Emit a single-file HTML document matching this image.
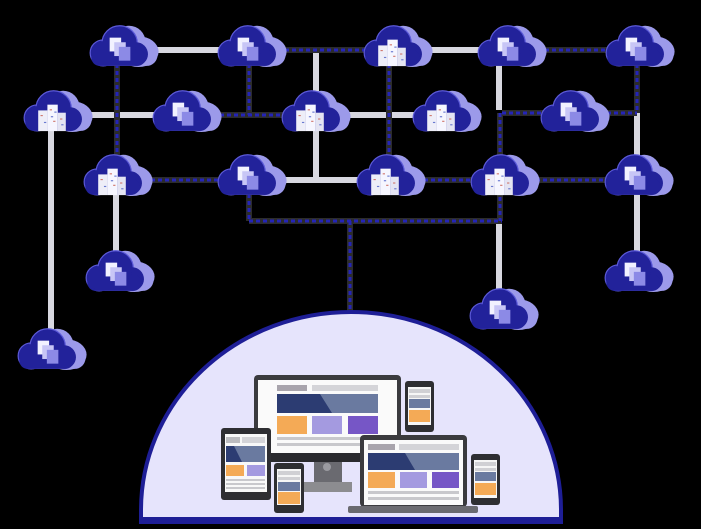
<!DOCTYPE html>
<html><head><meta charset="utf-8"><style>
html,body{margin:0;padding:0;background:#000;}
svg{display:block;}
</style></head><body>
<svg width="701" height="529" viewBox="0 0 701 529" xmlns="http://www.w3.org/2000/svg">
<defs>
<g id="cl"><g transform="scale(1.18)">
  <ellipse cx="14" cy="4" rx="17" ry="13" fill="#9c9aea"/>
  <circle cx="6" cy="-4" r="14" fill="#9c9aea"/>
  <rect x="-20" y="-2" width="50" height="18" rx="9" fill="#9c9aea"/>
  <circle cx="-16" cy="5" r="11" fill="#22229a" stroke="#5c5ad8" stroke-width="1"/>
  <circle cx="-2" cy="-3" r="15" fill="#22229a" stroke="#5c5ad8" stroke-width="1"/>
  <circle cx="12" cy="6" r="10" fill="#22229a"/>
  <rect x="-26" y="2" width="46" height="14" rx="7" fill="#22229a"/>
  <circle cx="-2" cy="-3" r="14" fill="#22229a"/>
  <circle cx="-16" cy="5" r="10" fill="#22229a"/>
</g></g>
<g id="sq"><g transform="scale(1.15)">
  <rect x="-9" y="-9" width="10" height="12" fill="#f2f2ff"/>
  <rect x="-5" y="-5" width="10" height="12" fill="#c8c6f6"/>
  <rect x="-1" y="-1" width="10" height="12" fill="#8c8ae6"/>
</g></g>
<g id="bd"><g transform="scale(1.15)">
  <rect x="-12" y="-4" width="8" height="18" fill="#eeeef8"/>
  <rect x="-4" y="-9" width="9" height="23" fill="#f6f6ff"/>
  <rect x="5" y="-2" width="7" height="16" fill="#e4e4f2"/>
  <g fill="#d07a70"><rect x="-10" y="0" width="2" height="1"/><rect x="-2" y="-5" width="2" height="1"/><rect x="7" y="3" width="2" height="1"/><rect x="1" y="5" width="2" height="1"/></g>
  <g fill="#6a7ad0"><rect x="-7" y="6" width="2" height="1"/><rect x="-1" y="1" width="2" height="1"/><rect x="8" y="8" width="2" height="1"/><rect x="2" y="-3" width="2" height="1"/></g>
</g></g>
</defs>

<g stroke="#d8d8e0" stroke-width="6" fill="none">
  <line x1="122" y1="50" x2="250" y2="50"/>
  <line x1="396" y1="50" x2="510" y2="50"/>
  <line x1="56" y1="115" x2="185" y2="115"/>
  <line x1="314" y1="115" x2="445" y2="115"/>
  <line x1="250" y1="180" x2="389" y2="180"/>
  <line x1="316" y1="50" x2="316" y2="180"/>
  <line x1="51" y1="115" x2="51" y2="345"/>
  <line x1="116" y1="180" x2="116" y2="268"/>
  <line x1="499" y1="50" x2="499" y2="110"/>
  <line x1="499" y1="221" x2="499" y2="305"/>
  <line x1="637" y1="113" x2="637" y2="268"/>
</g>
<g fill="none">
  <g stroke="#2c2c2c" stroke-width="6">
    <line x1="250" y1="50" x2="396" y2="50"/>
    <line x1="510" y1="50" x2="638" y2="50"/>
    <line x1="185" y1="115" x2="314" y2="115"/>
    <line x1="116" y1="180" x2="250" y2="180"/>
    <line x1="389" y1="180" x2="637" y2="180"/>
    <line x1="117" y1="50" x2="117" y2="175"/>
    <line x1="249" y1="50" x2="249" y2="115"/>
    <line x1="389" y1="50" x2="389" y2="180"/>
    <line x1="502" y1="113" x2="637" y2="113"/>
    <line x1="637" y1="50" x2="637" y2="113"/>
    <line x1="500" y1="113" x2="500" y2="221"/>
    <line x1="249" y1="180" x2="249" y2="221"/>
    <line x1="249" y1="221" x2="502" y2="221"/>
    <line x1="350" y1="221" x2="350" y2="312"/>
  </g>
  <g stroke="#2424b8" stroke-width="3" stroke-dasharray="4 3">
    <line x1="250" y1="50" x2="396" y2="50"/>
    <line x1="510" y1="50" x2="638" y2="50"/>
    <line x1="185" y1="115" x2="314" y2="115"/>
    <line x1="116" y1="180" x2="250" y2="180"/>
    <line x1="389" y1="180" x2="637" y2="180"/>
    <line x1="117" y1="50" x2="117" y2="175"/>
    <line x1="249" y1="50" x2="249" y2="115"/>
    <line x1="389" y1="50" x2="389" y2="180"/>
    <line x1="502" y1="113" x2="637" y2="113"/>
    <line x1="637" y1="50" x2="637" y2="113"/>
    <line x1="500" y1="113" x2="500" y2="221"/>
    <line x1="249" y1="180" x2="249" y2="221"/>
    <line x1="249" y1="221" x2="502" y2="221"/>
    <line x1="350" y1="221" x2="350" y2="312"/>
  </g>
</g>

<g>
  <use href="#cl" x="122" y="47"/><use href="#sq" x="120" y="48"/>
  <use href="#cl" x="250" y="47"/><use href="#sq" x="248" y="48"/>
  <use href="#cl" x="396" y="47"/><use href="#bd" x="392" y="50"/>
  <use href="#cl" x="510" y="47"/><use href="#sq" x="508" y="48"/>
  <use href="#cl" x="638" y="47"/><use href="#sq" x="636" y="48"/>

  <use href="#cl" x="56" y="112"/><use href="#bd" x="52" y="115"/>
  <use href="#cl" x="185" y="112"/><use href="#sq" x="183" y="113"/>
  <use href="#cl" x="314" y="112"/><use href="#bd" x="310" y="115"/>
  <use href="#cl" x="445" y="112"/><use href="#bd" x="441" y="115"/>
  <use href="#cl" x="573" y="112"/><use href="#sq" x="571" y="113"/>

  <use href="#cl" x="116" y="176"/><use href="#bd" x="112" y="179"/>
  <use href="#cl" x="250" y="176"/><use href="#sq" x="248" y="177"/>
  <use href="#cl" x="389" y="176"/><use href="#bd" x="385" y="179"/>
  <use href="#cl" x="503" y="176"/><use href="#bd" x="499" y="179"/>
  <use href="#cl" x="637" y="176"/><use href="#sq" x="635" y="177"/>

  <use href="#cl" x="118" y="272"/><use href="#sq" x="116" y="273"/>
  <use href="#cl" x="637" y="272"/><use href="#sq" x="635" y="273"/>
  <use href="#cl" x="502" y="310"/><use href="#sq" x="500" y="311"/>
  <use href="#cl" x="50" y="350"/><use href="#sq" x="48" y="351"/>
</g>

<path d="M141 522 L141 510 A210 198 0 0 1 561 510 L561 522 Z" fill="#e6e4fc" stroke="#1e1e96" stroke-width="4"/>
<rect x="139" y="517" width="424" height="6" fill="#1e1e96"/>

<rect x="254" y="375" width="147" height="82" rx="4" fill="#3a3a3e"/>
<rect x="258" y="380" width="139" height="73" fill="#fafafa"/>
<rect x="254" y="453" width="147" height="9" fill="#2a2a2e"/>
<rect x="314" y="462" width="28" height="20" fill="#6a6a70"/>
<circle cx="327" cy="467" r="4" fill="#9a9aa0"/>
<rect x="304" y="482" width="48" height="10" fill="#8c8c90"/>
<rect x="277" y="385" width="30" height="6" fill="#a8a4ac"/>
<rect x="312" y="385" width="66" height="6" fill="#d4d4d8"/>
<rect x="277" y="394" width="101" height="19" fill="#6a7aa0"/>
<polygon points="277,394 320,394 332,413 277,413" fill="#2c3c72"/>
<rect x="277" y="416" width="30" height="18" fill="#f4aa56"/>
<rect x="312" y="416" width="30" height="18" fill="#a49ae0"/>
<rect x="348" y="416" width="30" height="18" fill="#7656c6"/>
<g fill="#c8c8cc"><rect x="277" y="437" width="101" height="3"/><rect x="277" y="443" width="101" height="3"/></g>

<rect x="405" y="381" width="29" height="51" rx="3" fill="#2e2e32"/>
<rect x="408" y="387" width="23" height="38" fill="#f6f6f6"/>
<rect x="409" y="389" width="21" height="4" fill="#d0d0d4"/>
<rect x="409" y="395" width="21" height="3" fill="#d0d0d4"/>
<rect x="409" y="399" width="21" height="9" fill="#6a7aa0"/>
<rect x="409" y="410" width="21" height="12" fill="#f4aa56"/>

<rect x="221" y="428" width="50" height="72" rx="3" fill="#2e2e32"/>
<rect x="225" y="434" width="42" height="58" fill="#f8f8f8"/>
<rect x="226" y="437" width="14" height="6" fill="#bcbcc0"/>
<rect x="242" y="437" width="23" height="6" fill="#d4d4d8"/>
<rect x="226" y="446" width="39" height="16" fill="#6a7aa0"/>
<polygon points="226,446 234,446 242,462 226,462" fill="#2c3c72"/>
<rect x="226" y="465" width="18" height="11" fill="#f4aa56"/>
<rect x="247" y="465" width="18" height="11" fill="#a49ae0"/>
<g fill="#c8c8cc"><rect x="226" y="479" width="39" height="2"/><rect x="226" y="483" width="39" height="2"/><rect x="226" y="487" width="39" height="2"/></g>

<rect x="274" y="463" width="30" height="50" rx="3" fill="#2e2e32"/>
<rect x="277" y="469" width="24" height="36" fill="#f6f6f6"/>
<rect x="278" y="471" width="22" height="4" fill="#d0d0d4"/>
<rect x="278" y="477" width="22" height="3" fill="#d0d0d4"/>
<rect x="278" y="482" width="22" height="9" fill="#6a7aa0"/>
<rect x="278" y="492" width="22" height="12" fill="#f4aa56"/>

<rect x="360" y="435" width="107" height="72" rx="4" fill="#3a3a3e"/>
<rect x="364" y="440" width="99" height="65" fill="#fafafa"/>
<rect x="348" y="506" width="130" height="7" rx="2" fill="#6a6a70"/>
<rect x="368" y="444" width="27" height="6" fill="#a8a4ac"/>
<rect x="399" y="444" width="60" height="6" fill="#d4d4d8"/>
<rect x="368" y="453" width="91" height="17" fill="#6a7aa0"/>
<polygon points="368,453 405,453 415,470 368,470" fill="#2c3c72"/>
<rect x="368" y="472" width="27" height="16" fill="#f4aa56"/>
<rect x="400" y="472" width="27" height="16" fill="#a49ae0"/>
<rect x="432" y="472" width="27" height="16" fill="#7656c6"/>
<g fill="#c8c8cc"><rect x="368" y="491" width="91" height="3"/><rect x="368" y="497" width="91" height="3"/></g>

<rect x="471" y="454" width="29" height="51" rx="3" fill="#2e2e32"/>
<rect x="474" y="460" width="23" height="38" fill="#f6f6f6"/>
<rect x="475" y="462" width="21" height="4" fill="#d0d0d4"/>
<rect x="475" y="468" width="21" height="3" fill="#d0d0d4"/>
<rect x="475" y="472" width="21" height="9" fill="#6a7aa0"/>
<rect x="475" y="483" width="21" height="12" fill="#f4aa56"/>
</svg>
</body></html>
